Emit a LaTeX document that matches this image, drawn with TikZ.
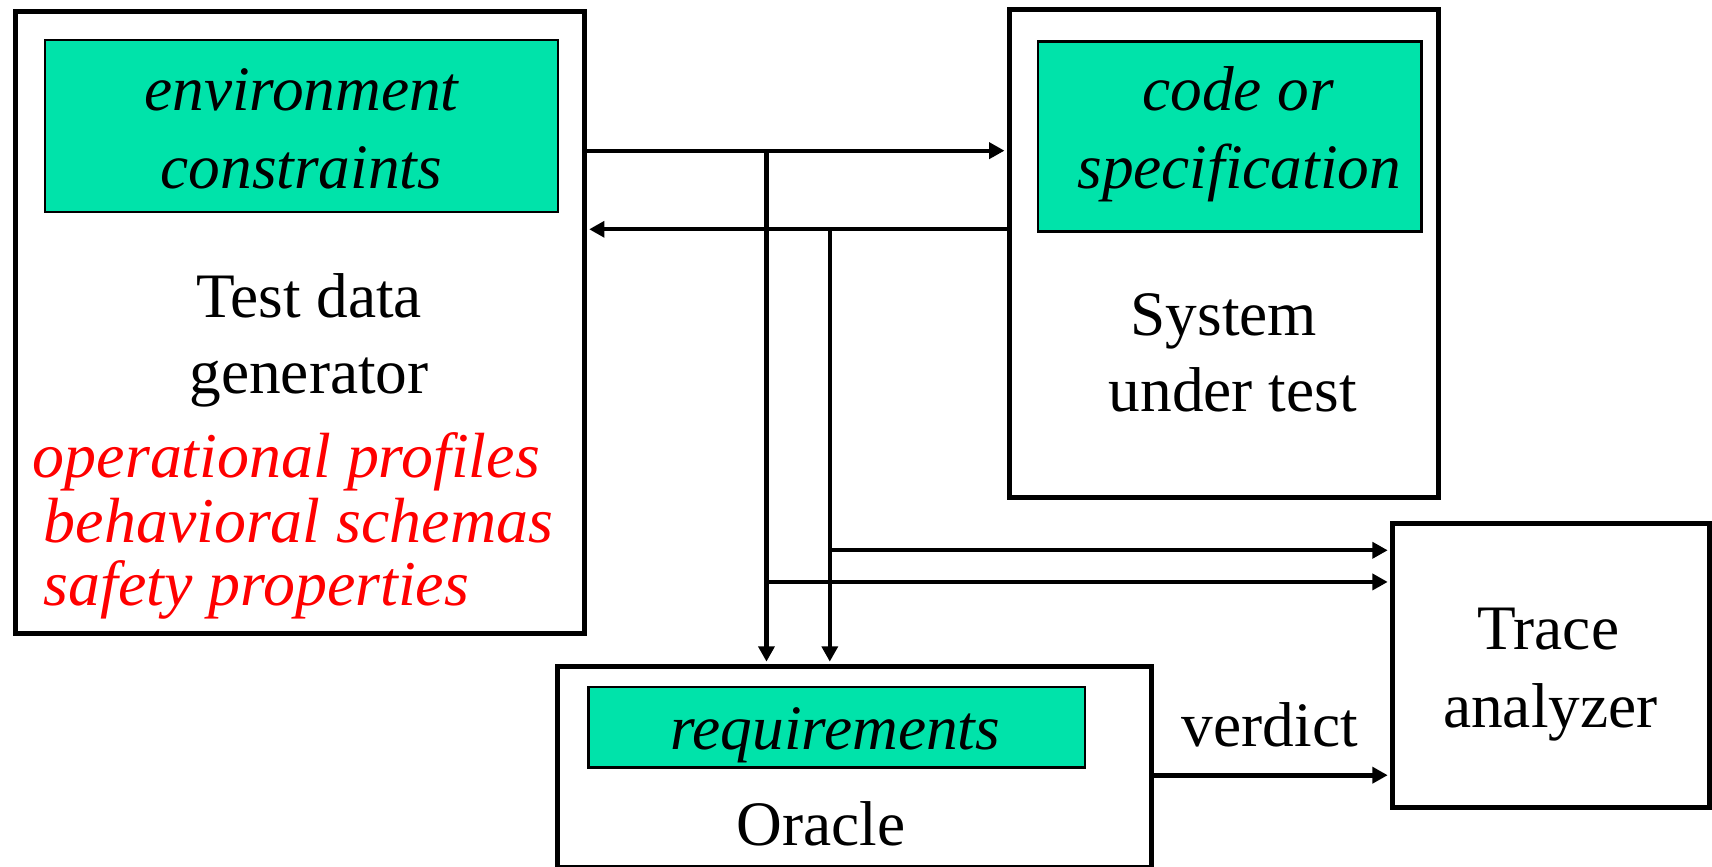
\documentclass[tikz,border=0pt]{standalone}
\usepackage{fontspec}
\setmainfont{Liberation Serif}
\usetikzlibrary{arrows.meta}
\definecolor{mint}{RGB}{0,227,170}
\begin{document}
\begin{tikzpicture}[x=1pt,y=-1pt,
  frame/.style={draw, line width=4.6pt, anchor=north west, inner sep=0pt},
  panel/.style={draw, line width=2pt, fill=mint, anchor=north west, inner sep=0pt},
  link/.style={line width=3.7pt, shorten >=2pt, -{Triangle[length=14pt,width=14.5pt]}},
  lbl/.style={font=\fontsize{58}{58}\selectfont, inner sep=0pt, anchor=base},
  ital/.style={font=\fontsize{58}{58}\selectfont\itshape, inner sep=0pt, anchor=base},
  note/.style={font=\fontsize{58.5}{58.5}\selectfont\itshape, text=red, inner sep=0pt, anchor=base west}]
\useasboundingbox (0,0) rectangle (1568,794);

% boxes
\node[frame, minimum width=521pt, minimum height=570pt] (tdg) at (12,8) {};
\node[panel, minimum width=470pt, minimum height=157pt] (env) at (40,36) {};
\node[frame, minimum width=393pt, minimum height=447pt] (sut) at (922,6) {};
\node[panel, minimum width=351pt, minimum height=174pt] (code) at (950,37) {};
\node[frame, minimum width=290pt, minimum height=260pt] (trace) at (1273,477) {};
\node[frame, minimum width=544pt, minimum height=184pt] (oracle) at (508,608) {};
\node[panel, minimum width=455pt, minimum height=74pt] (req) at (538,628) {};

% labels
\node[ital] (envA) at (276,101) {environment};
\node[ital] (envB) at (276,173) {constraints};
\node[lbl] (tdgA) at (283,291) {Test data};
\node[lbl] (tdgB) at (283,360) {generator};
\node[note] (opA) at (30,437) {operational profiles};
\node[note] (opB) at (40,497) {behavioral schemas};
\node[note] (opC) at (40,555) {safety properties};
\node[ital] (codeA) at (1134,101) {code or};
\node[ital] (codeB) at (1135,173) {specification};
\node[lbl] (sutA) at (1121,307) {System};
\node[lbl] (sutB) at (1129,377) {under test};
\node[lbl] (trA) at (1418,595) {Trace};
\node[lbl] (trB) at (1420,666) {analyzer};
\node[ital] (reqA) at (765,686) {requirements};
\node[lbl] (orA) at (752,774) {Oracle};
\node[lbl] (verd) at (1163,684) {verdict};

% junction points of the connectors
\coordinate (r1) at (0,138);
\coordinate (r2) at (0,210);
\coordinate (j1) at (702,138);
\coordinate (j2) at (760,210);
\coordinate (k1) at (702,533);
\coordinate (k2) at (760,504);
\coordinate (vv) at (0,710);

% connectors
\draw[link] (tdg.east |- r1) -- (sut.west |- r1);
\draw[link] (sut.west |- r2) -- (tdg.east |- r2);
\draw[link] (j1) -- (j1 |- oracle.north);
\draw[link] (j2) -- (j2 |- oracle.north);
\draw[link] (k2) -- (k2 -| trace.west);
\draw[link] (k1) -- (k1 -| trace.west);
\draw[link, line width=4.5pt] (oracle.east |- vv) -- (trace.west |- vv);
\end{tikzpicture}
\end{document}
